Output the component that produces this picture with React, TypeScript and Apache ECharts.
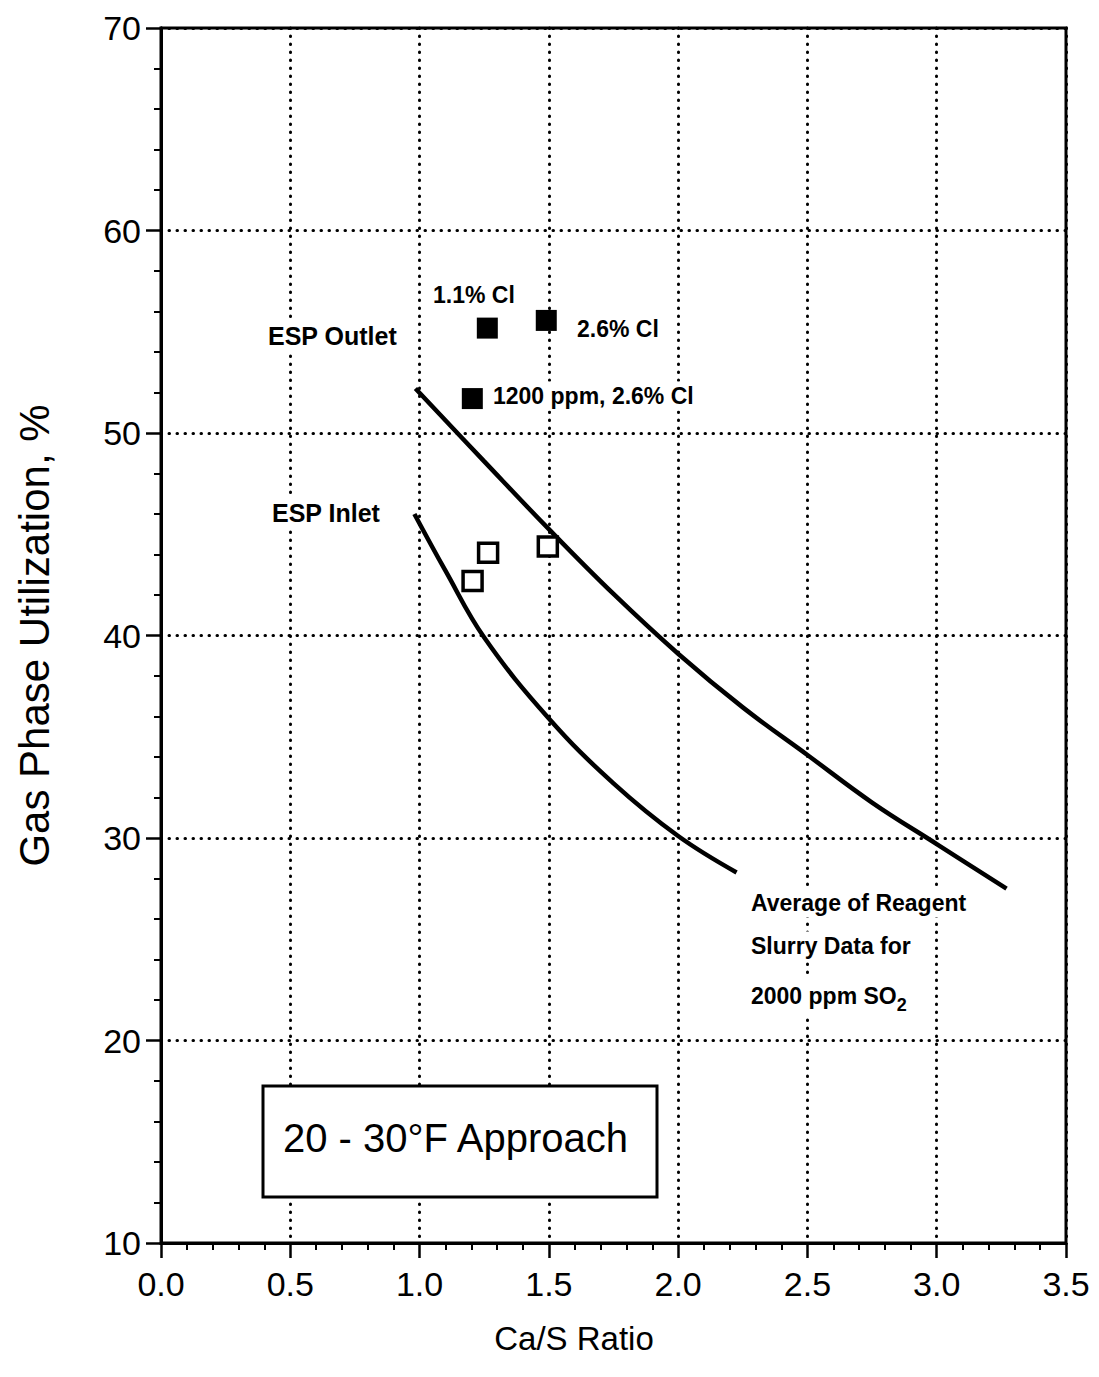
import React, { useEffect, useRef } from "react";
import * as echarts from "echarts";

// ---- data ----
const xTicks = [0, 0.5, 1.0, 1.5, 2.0, 2.5, 3.0, 3.5];
const yTicks = [10, 20, 30, 40, 50, 60, 70];

// ESP Outlet curve (average of reagent slurry data)
const outletCurve: [number, number][] = [
  [0.984, 52.2], [1.25, 48.6], [1.5, 45.25], [1.75, 42.05], [2.0, 39.1],
  [2.25, 36.45], [2.5, 34.1], [2.75, 31.75], [3.0, 29.7], [3.27, 27.5],
];
// ESP Inlet curve
const inletCurve: [number, number][] = [
  [0.98, 46.0], [1.1, 43.2], [1.25, 39.9], [1.5, 35.9], [1.75, 32.7], [2.0, 30.1], [2.226, 28.3],
];
// ESP Outlet measured points (filled squares)
const outletPoints: [number, number][] = [
  [1.262, 55.18], [1.49, 55.56], [1.204, 51.7],
];
// ESP Inlet measured points (open squares)
const inletPoints: [number, number][] = [
  [1.205, 42.69], [1.265, 44.09], [1.496, 44.39],
];

const FONT = "'Liberation Sans', Arial, Helvetica, sans-serif";

export default function App() {
  const ref = useRef<HTMLDivElement>(null);
  useEffect(() => {
    document.body.style.margin = "0";
    const chart = echarts.init(ref.current!, null, { renderer: "svg" });
    const annot = (text: string, x: number, y: number, size = 23, extra: any = {}) => ({
      type: "text",
      x,
      y,
      z: 50,
      style: {
        text,
        fill: "#000",
        font: `bold ${size}px ${FONT}`,
        verticalAlign: "middle",
        align: "left",
        backgroundColor: "#fff",
        padding: [3, 4],
        ...extra,
      },
    });
    const dotted = { color: "#000", width: 3, type: [0.5, 7.5], cap: "round" };
    chart.setOption({
      animation: false,
      backgroundColor: "#fff",
      grid: {
        left: 161,
        right: 33,
        top: 28,
        bottom: 134,
        show: true,
        borderColor: "#000",
        borderWidth: 3,
        backgroundColor: "transparent",
      },
      xAxis: {
        type: "value",
        min: xTicks[0],
        max: xTicks[xTicks.length - 1],
        interval: 0.5,
        axisLine: { lineStyle: { color: "#000", width: 3 } },
        axisTick: { show: true, length: 15, lineStyle: { color: "#000", width: 2.5 } },
        minorTick: { show: true, splitNumber: 5, length: 7, lineStyle: { color: "#000", width: 2 } },
        axisLabel: {
          color: "#000",
          fontSize: 34,
          fontFamily: FONT,
          margin: 24,
          formatter: (v: number) => v.toFixed(1),
        },
        splitLine: { show: true, lineStyle: dotted },
      },
      yAxis: {
        type: "value",
        min: yTicks[0],
        max: yTicks[yTicks.length - 1],
        interval: 10,
        name: "Gas Phase Utilization, %",
        nameLocation: "middle",
        nameGap: 106,
        nameTextStyle: { color: "#000", fontSize: 42, fontFamily: FONT },
        axisLine: { lineStyle: { color: "#000", width: 3 } },
        axisTick: { show: true, length: 15, lineStyle: { color: "#000", width: 2.5 } },
        minorTick: { show: true, splitNumber: 5, length: 7, lineStyle: { color: "#000", width: 2 } },
        axisLabel: { color: "#000", fontSize: 34, fontFamily: FONT, margin: 20 },
        splitLine: { show: true, lineStyle: dotted },
      },
      series: [
        {
          type: "line",
          data: outletCurve,
          smooth: 0.4,
          showSymbol: false,
          symbol: "none",
          lineStyle: { color: "#000", width: 4.5 },
          z: 3,
        },
        {
          type: "line",
          data: inletCurve,
          smooth: 0.4,
          showSymbol: false,
          symbol: "none",
          lineStyle: { color: "#000", width: 4.5 },
          z: 3,
        },
        {
          type: "scatter",
          data: outletPoints,
          symbol: "rect",
          symbolSize: 21,
          itemStyle: { color: "#000", opacity: 1 },
          z: 4,
        },
        {
          type: "scatter",
          data: inletPoints,
          symbol: "rect",
          symbolSize: 19,
          itemStyle: { color: "#fff", borderColor: "#000", borderWidth: 3.5, opacity: 1 },
          z: 4,
        },
      ],
      graphic: [
        annot("ESP Outlet", 264, 336, 25),
        annot("ESP Inlet", 268, 513, 25),
        annot("1.1% Cl", 429, 295, 23),
        annot("2.6% Cl", 573, 329, 23),
        annot("1200 ppm, 2.6% Cl", 489, 396, 23),
        annot("Average of Reagent", 747, 903, 23),
        annot("Slurry Data for", 747, 946, 23),
        annot("2000 ppm SO{sub|2}", 747, 996, 23, {
          rich: {
            sub: { fontSize: 18, fontWeight: "bold", fontFamily: FONT, fill: "#000", padding: [18, 0, 0, 0] },
          },
        }),
        {
          type: "rect",
          z: 50,
          shape: { x: 263, y: 1086, width: 394, height: 111 },
          style: { fill: "#fff", stroke: "#000", lineWidth: 3 },
        },
        {
          type: "text",
          z: 51,
          x: 283,
          y: 1138,
          style: {
            text: "20 - 30°F Approach",
            fill: "#000",
            font: `40px ${FONT}`,
            verticalAlign: "middle",
            align: "left",
          },
        },
        {
          type: "text",
          z: 51,
          x: 574,
          y: 1338,
          style: {
            text: "Ca/S Ratio",
            fill: "#000",
            font: `33px ${FONT}`,
            verticalAlign: "middle",
            align: "center",
          },
        },
      ],
    });
    return () => chart.dispose();
  }, []);
  return <div ref={ref} style={{ width: 1099, height: 1377 }} />;
}
